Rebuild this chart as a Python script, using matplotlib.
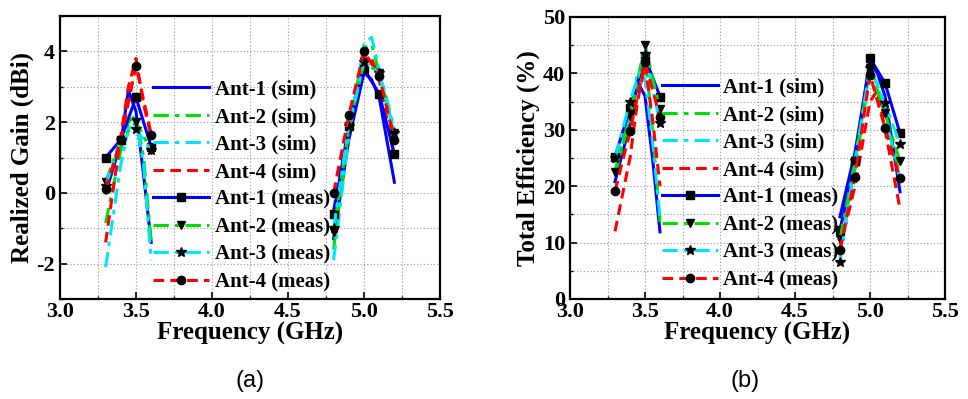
import numpy as np
import matplotlib.pyplot as plt
from matplotlib.ticker import MultipleLocator

plt.rcParams['font.family'] = ['Liberation Serif', 'DejaVu Serif']
plt.rcParams['font.weight'] = 'bold'
plt.rcParams['axes.labelweight'] = 'bold'

nan = np.nan
# measured points, two bands joined by a NaN gap
f_meas = [3.3, 3.4, 3.5, 3.6, nan, 4.8, 4.9, 5.0, 5.1, 5.2]
# simulated curves
f_sim = [3.3, 3.4, 3.45, 3.5, 3.55, 3.6, nan, 4.8, 4.9, 5.0, 5.05, 5.1, 5.2]

labels = ["Ant-1", "Ant-2", "Ant-3", "Ant-4"]

gain_sim = {
    "Ant-1": [0.0, 1.4, 2.9, 2.3, 0.5, -1.4, nan, -1.3, 1.5, 3.4, 3.2, 2.7, 0.3],
    "Ant-2": [-0.85, 1.2, 2.0, 2.2, 1.0, -1.4, nan, -1.6, 1.8, 4.1, 4.2, 3.4, 1.6],
    "Ant-3": [-2.1, 0.8, 1.8, 2.0, 0.8, -1.9, nan, -1.9, 1.6, 4.2, 4.4, 3.5, 1.8],
    "Ant-4": [-1.4, 1.6, 3.0, 3.8, 2.5, 1.6, nan, -0.5, 2.0, 3.9, 3.8, 3.2, 1.0],
}
gain_meas = {
    "Ant-1": [1.0, 1.5, 2.7, 1.3, nan, -0.6, 1.9, 3.5, 2.8, 1.1],
    "Ant-2": [0.3, 1.5, 2.0, 1.2, nan, -1.1, 1.8, 3.7, 3.4, 1.7],
    "Ant-3": [0.2, 1.5, 1.8, 1.2, nan, -1.0, 1.9, 3.7, 3.4, 1.7],
    "Ant-4": [0.1, 1.5, 3.6, 1.65, nan, 0.0, 2.2, 4.0, 3.3, 1.5],
}
eff_sim = {
    "Ant-1": [20.8, 31, 38.5, 36, 25, 11.9, nan, 14.6, 26, 42, 40, 36, 19],
    "Ant-2": [22, 32, 38, 44, 30, 13.7, nan, 10, 23, 40, 38, 32, 22],
    "Ant-3": [24, 33, 40, 39, 28, 14.5, nan, 8, 24, 41, 38, 33, 21],
    "Ant-4": [12, 25, 35, 41.5, 32, 20, nan, 9, 20, 35, 37, 30, 16],
}
eff_meas = {
    "Ant-1": [25.2, 33.8, 42.8, 35.9, nan, 12.3, 24.4, 42.7, 38.3, 29.4],
    "Ant-2": [22.6, 32.4, 45.1, 33.6, nan, 10.7, 24.4, 41.0, 32.9, 24.4],
    "Ant-3": [25.0, 35.0, 43.5, 31.2, nan, 6.6, 24.4, 41.0, 34.7, 27.4],
    "Ant-4": [19.1, 29.7, 42.1, 32.2, nan, 8.7, 21.7, 39.8, 30.3, 21.4],
}

colors = {"Ant-1": "#0000ff", "Ant-2": "#00e000", "Ant-3": "#00e5ff", "Ant-4": "#ff0000"}
styles = {"Ant-1": "-", "Ant-2": (0, (5, 2, 1.5, 2)), "Ant-3": (0, (5, 2, 1.5, 2)), "Ant-4": (0, (3.5, 2))}
markers = {"Ant-1": "s", "Ant-2": "v", "Ant-3": "*", "Ant-4": "o"}


def panel(ax, sim, meas, ylim, ymaj, ymin, ylabel, leg_anchor):
    for k in labels:
        ax.plot(f_sim, sim[k], color=colors[k], ls=styles[k], lw=2.2, label=f"{k} (sim)")
    for k in labels:
        ax.plot(f_meas, meas[k], color=colors[k], ls=styles[k], lw=2.2,
                marker=markers[k], mfc="black", mec="black", ms=6 if k != "Ant-3" else 7,
                label=f"{k} (meas)")
    ax.set_xlim(3.0, 5.5)
    ax.set_ylim(*ylim)
    ax.xaxis.set_major_locator(MultipleLocator(0.5))
    ax.xaxis.set_minor_locator(MultipleLocator(0.25))
    ax.yaxis.set_major_locator(MultipleLocator(ymaj))
    ax.yaxis.set_minor_locator(MultipleLocator(ymin))
    ax.xaxis.set_major_formatter(lambda v, p: f"{v:.1f}")
    ax.yaxis.set_major_formatter(lambda v, p: f"{v:.0f}")
    ax.grid(True, which="both", ls=(0, (1, 2)), color="#999999", lw=0.8)
    ax.tick_params(which="both", direction="in", labelsize=16, top=False, right=False)
    ax.tick_params(axis="x", which="major", pad=2)
    ax.tick_params(which="major", length=5, width=1.2)
    ax.tick_params(which="minor", length=2.5, width=1.0)
    for s in ax.spines.values():
        s.set_linewidth(1.6)
    ax.set_xlabel("Frequency (GHz)", fontsize=18, labelpad=0)
    ax.set_ylabel(ylabel, fontsize=18, labelpad=2)
    ax.legend(loc="upper left", bbox_to_anchor=leg_anchor, frameon=False, fontsize=15,
              handlelength=2.7, handletextpad=0.25, labelspacing=0.36, borderpad=0,
              borderaxespad=0)


fig = plt.figure(figsize=(9.68, 3.99), dpi=100)
ax1 = fig.add_axes([60 / 968, 1 - 299 / 399, 380 / 968, 283 / 399])
ax2 = fig.add_axes([570 / 968, 1 - 299 / 399, 375 / 968, 282 / 399])

panel(ax1, gain_sim, gain_meas, (-3, 5), 2, 1, "Realized Gain (dBi)", (0.245, 0.775))
panel(ax2, eff_sim, eff_meas, (0, 50), 10, 5, "Total Efficiency (%)", (0.245, 0.785))

fig.text(250 / 968, 1 - 381 / 399, "(a)", family="Liberation Sans", weight="normal",
         fontsize=17, ha="center", va="center")
fig.text(745 / 968, 1 - 381 / 399, "(b)", family="Liberation Sans", weight="normal",
         fontsize=17, ha="center", va="center")

fig.savefig("out.png", dpi=100)
